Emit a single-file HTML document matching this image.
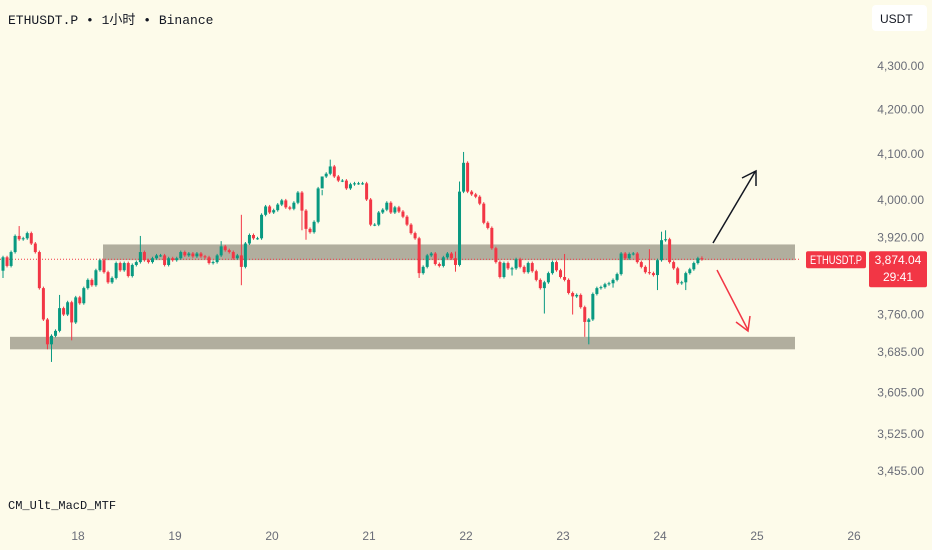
<!DOCTYPE html>
<html><head><meta charset="utf-8"><style>
html,body{margin:0;padding:0;background:#fdfbea;}
svg{display:block;font-family:"Liberation Sans","Noto Sans CJK SC",sans-serif;}
</style></head><body>
<svg id="chart" width="932" height="550" viewBox="0 0 932 550" xmlns="http://www.w3.org/2000/svg">
<rect x="0" y="0" width="932" height="550" fill="#fdfbea"/>
<text x="8" y="24" font-family="Liberation Mono, Noto Sans CJK SC, monospace" font-size="13" fill="#131722">ETHUSDT.P • 1小时 • Binance</text>
<g>
<rect x="872" y="5" width="55" height="26" rx="4" fill="#ffffff"/>
<text x="880" y="23" font-size="12" fill="#131722">USDT</text>
</g>
<g id="bands"></g>
<g id="candles"></g>
<g id="axisY"></g>
<g id="axisX"></g>
<g stroke="#131722" stroke-width="1.5" fill="none">
<line x1="713" y1="243" x2="755" y2="172"/>
<polyline points="742,178 756,171 756,186"/>
</g>
<g stroke="#f23645" stroke-width="1.5" fill="none">
<line x1="717" y1="270" x2="748" y2="330"/>
<polyline points="736,322 748,331 750,316"/>
</g>
<text x="8" y="509" font-family="Liberation Mono, monospace" font-size="12" fill="#131722">CM_Ult_MacD_MTF</text>
<g id="priceTag"></g>
</svg>
<script>
const closes = [3878,3860,3889,3923,3916,3918,3929,3907,3889,3814,3750,3700,3717,3727,3773,3760,3785,3744,3795,3783,3814,3831,3820,3851,3872,3847,3826,3835,3866,3851,3866,3839,3862,3868,3889,3872,3868,3876,3882,3882,3862,3876,3872,3876,
3889,3882,3886,3880,3886,3880,3878,3866,3868,3882,3901,3893,3889,3876,3882,3858,3907,3925,3918,3918,3968,3986,3973,3978,3990,3999,3984,3981,3994,4016,3977,3938,3931,3953,4025,4051,4057,4073,4051,4042,4042,4025,
4034,4036,4036,4036,4001,3947,3947,3973,3979,3994,3973,3984,3975,3964,3947,3929,3918,3845,3858,3882,3886,3864,3860,3878,3886,3876,3862,4018,4081,4018,4012,4007,3992,3951,3940,3897,3868,3837,3866,3855,3855,3874,
3858,3847,3866,3849,3831,3814,3826,3845,3868,3851,3837,3831,3804,3797,3800,3775,3745,3750,3802,3814,3816,3822,3824,3831,3843,3886,3876,3885,3886,3868,3858,3847,3845,3841,3872,3914,3916,3868,3855,3824,3826,3845,3853,3866,3876,3874.04];
const firstOpen = 3850;
const wickHighs = {4:3944,14:3800,34:3923,54:3912,59:3968,79:4010,81:4088,114:4105,113:4040,112:3890,139:3885,160:3895,163:3932,164:3935,173:3880};
const wickLows = {0:3835,11:3690,12:3665,17:3708,59:3820,74:3935,75:3915,103:3835,112:3848,126:3840,134:3762,141:3760,144:3715,145:3700,151:3815,162:3810,169:3810};
const yTicks = [4300,4200,4100,4000,3920,3760,3685,3605,3525,3455];
const xTickDays = [18,19,20,21,22,23,24,25,26];
const bandUpper = [3905,3872];
const bandLower = [3715,3690];
const lastPrice = 3874.04;

const NS = "http://www.w3.org/2000/svg";
function yScale(p){return 66 + 1852*(Math.log(4300) - Math.log(p));}
function xIndex(i){return 3 + i*4.04;}
function xDay(d){return 78 + (d-18)*97;}
function mk(tag, attrs, parent){const e=document.createElementNS(NS,tag);for(const k in attrs)e.setAttribute(k,attrs[k]);parent.appendChild(e);return e;}

const bands = document.getElementById('bands');
let b1 = mk('rect',{x:103,y:yScale(bandUpper[0]),width:692,height:yScale(bandUpper[1])-yScale(bandUpper[0]),fill:'#a3a090','fill-opacity':'0.85'},bands);


let b2 = mk('rect',{x:10,y:yScale(bandLower[0]),width:785,height:yScale(bandLower[1])-yScale(bandLower[0]),fill:'#a3a090','fill-opacity':'0.85'},bands);


let pl = mk('line',{x1:0,x2:800,y1:yScale(lastPrice),y2:yScale(lastPrice),stroke:'#f23645','stroke-width':1,'stroke-dasharray':'1,2'},bands);



const cg = document.getElementById('candles');
for(let i=0;i<closes.length;i++){
  const o = i===0?firstOpen:closes[i-1], c = closes[i];
  const up = c>=o, col = up?'#089981':'#f23645';
  const x = xIndex(i);
  const top = yScale(Math.max(o,c)), bot = yScale(Math.min(o,c));
  const hi = wickHighs[i]!==undefined ? yScale(wickHighs[i]) : top-1.5;
  const lo = wickLows[i]!==undefined ? yScale(wickLows[i]) : bot+1.5;
  const g = mk('g',{},cg);
  
  
  mk('line',{x1:x,x2:x,y1:hi,y2:lo,stroke:col,'stroke-width':1},g);
  mk('rect',{x:x-1.5,y:top,width:3,height:Math.max(1,bot-top),fill:col},g);
}

const ay = document.getElementById('axisY');
yTicks.forEach(v=>{
  const t = mk('text',{x:924,y:yScale(v)+4,'text-anchor':'end','font-size':12,fill:'#6a6d78'},ay);
  
  
  t.textContent = v.toLocaleString('en-US',{minimumFractionDigits:2,maximumFractionDigits:2});
});
const ax = document.getElementById('axisX');
xTickDays.forEach(d=>{
  const t = mk('text',{x:xDay(d),y:540,'text-anchor':'middle','font-size':12,fill:'#6a6d78'},ax);
  
  
  t.textContent = String(d);
});

const pt = document.getElementById('priceTag');
const py = yScale(lastPrice);
const g1 = mk('g',{},pt);


mk('rect',{x:806,y:py-8,width:60,height:17,rx:2,fill:'#f23645'},g1);
const s1 = mk('text',{x:810,y:py+5,'font-size':12,fill:'#ffffff',textLength:52,lengthAdjust:'spacingAndGlyphs'},g1);
s1.textContent='ETHUSDT.P';
const g2 = mk('g',{},pt);


mk('rect',{x:869,y:py-8,width:58,height:36,rx:2,fill:'#f23645'},g2);
const s2 = mk('text',{x:898,y:py+5,'text-anchor':'middle','font-size':12,fill:'#ffffff'},g2);
s2.textContent=lastPrice.toLocaleString('en-US',{minimumFractionDigits:2});
const s3 = mk('text',{x:883,y:py+22,'font-size':12,fill:'#ffffff'},g2);
s3.textContent='29:41';
</script>
</body></html>
